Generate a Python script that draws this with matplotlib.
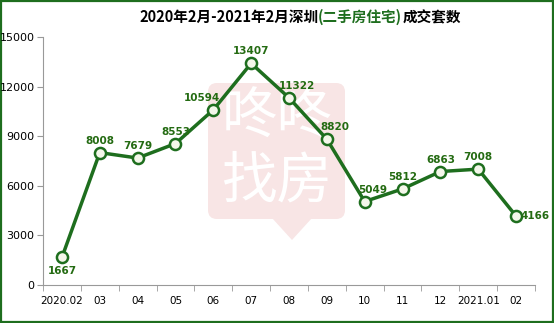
"""Shenzhen second-hand housing transactions, Feb 2020 - Feb 2021."""

import matplotlib.pyplot as plt
from matplotlib.patches import FancyBboxPatch, Polygon, Rectangle

plt.rcParams["font.family"] = ["Noto Sans CJK SC", "DejaVu Sans"]

MONTHS = ["2020.02", "03", "04", "05", "06", "07", "08", "09",
          "10", "11", "12", "2021.01", "02"]
DEALS = [1667, 8008, 7679, 8553, 10594, 13407, 11322, 8820,
         5049, 5812, 6863, 7008, 4166]
Y_TICKS = [0, 3000, 6000, 9000, 12000, 15000]

GREEN = "#1e6e1e"
LABEL_GREEN = "#246b12"
PINK = "#f8e5e5"
W, H = 554, 323

fig = plt.figure(figsize=(W / 100, H / 100), dpi=100)
fig.patch.set_facecolor("white")

# background layer in pixel coords (y from top): frame + watermark
bg = fig.add_axes([0, 0, 1, 1], zorder=-1)
bg.set_xlim(0, W)
bg.set_ylim(H, 0)
bg.axis("off")
bg.add_patch(Rectangle((1, 1), W - 2, H - 2, fill=False, edgecolor=GREEN, linewidth=1.6))
bg.add_patch(FancyBboxPatch((208, 83), 137, 136,
                            boxstyle="round,pad=0,rounding_size=9",
                            facecolor=PINK, edgecolor="none"))
bg.add_patch(Polygon([(272, 218), (292, 240), (312, 218)], closed=True,
                     facecolor=PINK, edgecolor="none"))
bg.text(277, 118, "咚咚", color="white", fontsize=40, ha="center", va="center")
bg.text(277, 182, "找房", color="white", fontsize=40, ha="center", va="center")

ax = fig.add_axes([43 / W, 1 - 285 / H, 492 / W, 248 / H], zorder=1)
ax.set_facecolor("none")
x = list(range(len(MONTHS)))
ax.plot(x, DEALS, color=GREEN, linewidth=2.5, marker="o", markersize=8,
        markerfacecolor="#f4f7ea", markeredgecolor=GREEN, markeredgewidth=1.8, zorder=3)

# horizontal nudges (points) for the labels that sit off-centre in the original
nudge = {4: -8, 6: 6, 7: 6, 8: 6}
for i, v in enumerate(DEALS):
    style = dict(textcoords="offset points", fontsize=7.5, fontweight="bold",
                 color=LABEL_GREEN, family="DejaVu Sans", zorder=4)
    if i == 0:
        ax.annotate(str(v), (i, v), xytext=(0, -6), ha="center", va="top", **style)
    elif i == len(DEALS) - 1:
        ax.annotate(str(v), (i, v), xytext=(3.5, 0), ha="left", va="center", **style)
    else:
        ax.annotate(str(v), (i, v), xytext=(nudge.get(i, 0), 5), ha="center",
                    va="bottom", **style)

ax.set_xlim(-0.5, len(MONTHS) - 0.5)
ax.set_ylim(0, 15000)
ax.set_yticks(Y_TICKS)
ax.set_yticklabels([str(t) for t in Y_TICKS], fontsize=8, family="DejaVu Sans")
ax.set_xticks(x)
ax.set_xticklabels(MONTHS, fontsize=7.5, family="DejaVu Sans")
ax.tick_params(axis="x", length=0, pad=8)
ax.set_xticks([i - 0.5 for i in range(len(MONTHS) + 1)], minor=True)
ax.tick_params(axis="x", which="minor", length=4, color="#999999")
ax.tick_params(axis="y", length=4, color="#999999", pad=2)
for side in ("top", "right"):
    ax.spines[side].set_visible(False)
ax.spines["left"].set_color("#999999")
ax.spines["bottom"].set_color("#999999")

# title with a green middle part
parts = [("2020年2月-2021年2月深圳", "black"), ("(二手房住宅)", GREEN), ("成交套数", "black")]
renderer = fig.canvas.get_renderer()
texts = []
for s, c in parts:
    texts.append(fig.text(0, 1 - 17 / H, s, color=c, fontsize=10.5, fontweight="bold",
                          ha="left", va="center"))
widths = [t.get_window_extent(renderer).width for t in texts]
start = 300 - sum(widths) / 2
for t, w in zip(texts, widths):
    t.set_x(start / W)
    start += w

fig.savefig("out.png", dpi=100)
